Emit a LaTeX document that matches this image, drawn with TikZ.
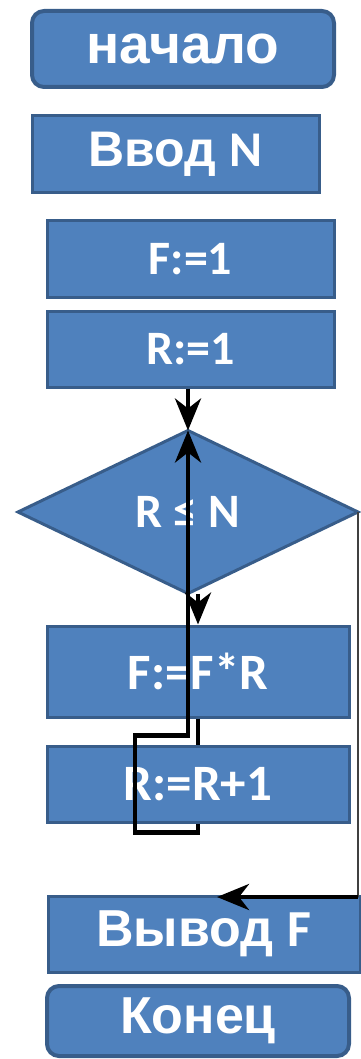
\documentclass[tikz,border=0pt]{standalone}
\usepackage{fontspec}
\setmainfont{Carlito}
\newfontfamily\wordfont{Liberation Sans}
\usetikzlibrary{arrows.meta,shapes.geometric}
\definecolor{boxfill}{HTML}{4F81BD}
\definecolor{boxline}{HTML}{385D8A}
\tikzset{
  block/.style={draw=boxline, fill=boxfill, line width=3pt, text=white, inner sep=0pt},
  terminal/.style={block, rounded corners=12pt, line width=4pt},
  decision/.style={block, diamond, aspect=2, outer sep=0pt},
  formula/.style={font=\bfseries\fontsize{48}{48}\selectfont},
  words/.style={font=\wordfont\bfseries\fontsize{50}{50}\selectfont},
  flow/.style={line width=4.5pt, -{Stealth[length=32pt, width=26pt, inset=10pt]}}
}
\begin{document}
\begin{tikzpicture}[x=1pt, y=-1pt]
			%%%%% START %%%%%
			\useasboundingbox (0, 0) rectangle (361, 1059);
			
			\node[terminal, words, font=\wordfont\bfseries\fontsize{55}{55}\selectfont, minimum width=302pt, minimum height=76pt] (start) at (183, 49) {начало};
			\node[block, words, minimum width=287pt, minimum height=77pt] (input) at (175.5, 154.5) {Ввод {\fontspec{Carlito}N}};
			\node[block, formula, minimum width=287pt, minimum height=76pt] (fone) at (190.5, 259) {F:=1};
			\node[block, formula, minimum width=287pt, minimum height=76pt] (rone) at (190.5, 349) {R:=1};
			
			\node[decision, formula, minimum width=340pt, minimum height=163pt] (cond) at (188, 512) {R ≤ N};
			
			\node[block, formula, font=\fontsize{51}{51}\selectfont\bfseries, minimum width=302pt, minimum height=91pt] (body) at (198, 671.5) {F:=F*R};
			\node[block, formula, font=\fontsize{51}{51}\selectfont\bfseries, minimum width=302pt, minimum height=76pt] (inc) at (198, 784) {R:=R+1};
			
			\node[block, words, font=\wordfont\bfseries\fontsize{52}{52}\selectfont, minimum width=312pt, minimum height=76pt] (output) at (204, 934) {Вывод {\fontspec{Carlito}F}};
			\node[terminal, words, font=\wordfont\bfseries\fontsize{52}{52}\selectfont, minimum width=302pt, minimum height=70pt] (stop) at (198, 1021) {Конец};
			
			\coordinate (outin) at (217, 897);
			
			\draw[flow] (rone.south -| cond.north) -- (cond.north);
			\draw[flow] (cond.south -| body.north) -- (body.north);
			\draw[line width=4.5pt] (body.south) -- (inc.north);
			\draw[flow] (inc.south) -- ++(0, 9) -- ++(-63, 0) -- ++(0, -97) -| (cond.north);
			
			\draw[line width=1.2pt, black!75] (cond.east) -- (cond.east |- outin);
			\draw[flow] (cond.east |- outin) -- (outin);
			%%%%% END %%%%%
\end{tikzpicture}
\end{document}
